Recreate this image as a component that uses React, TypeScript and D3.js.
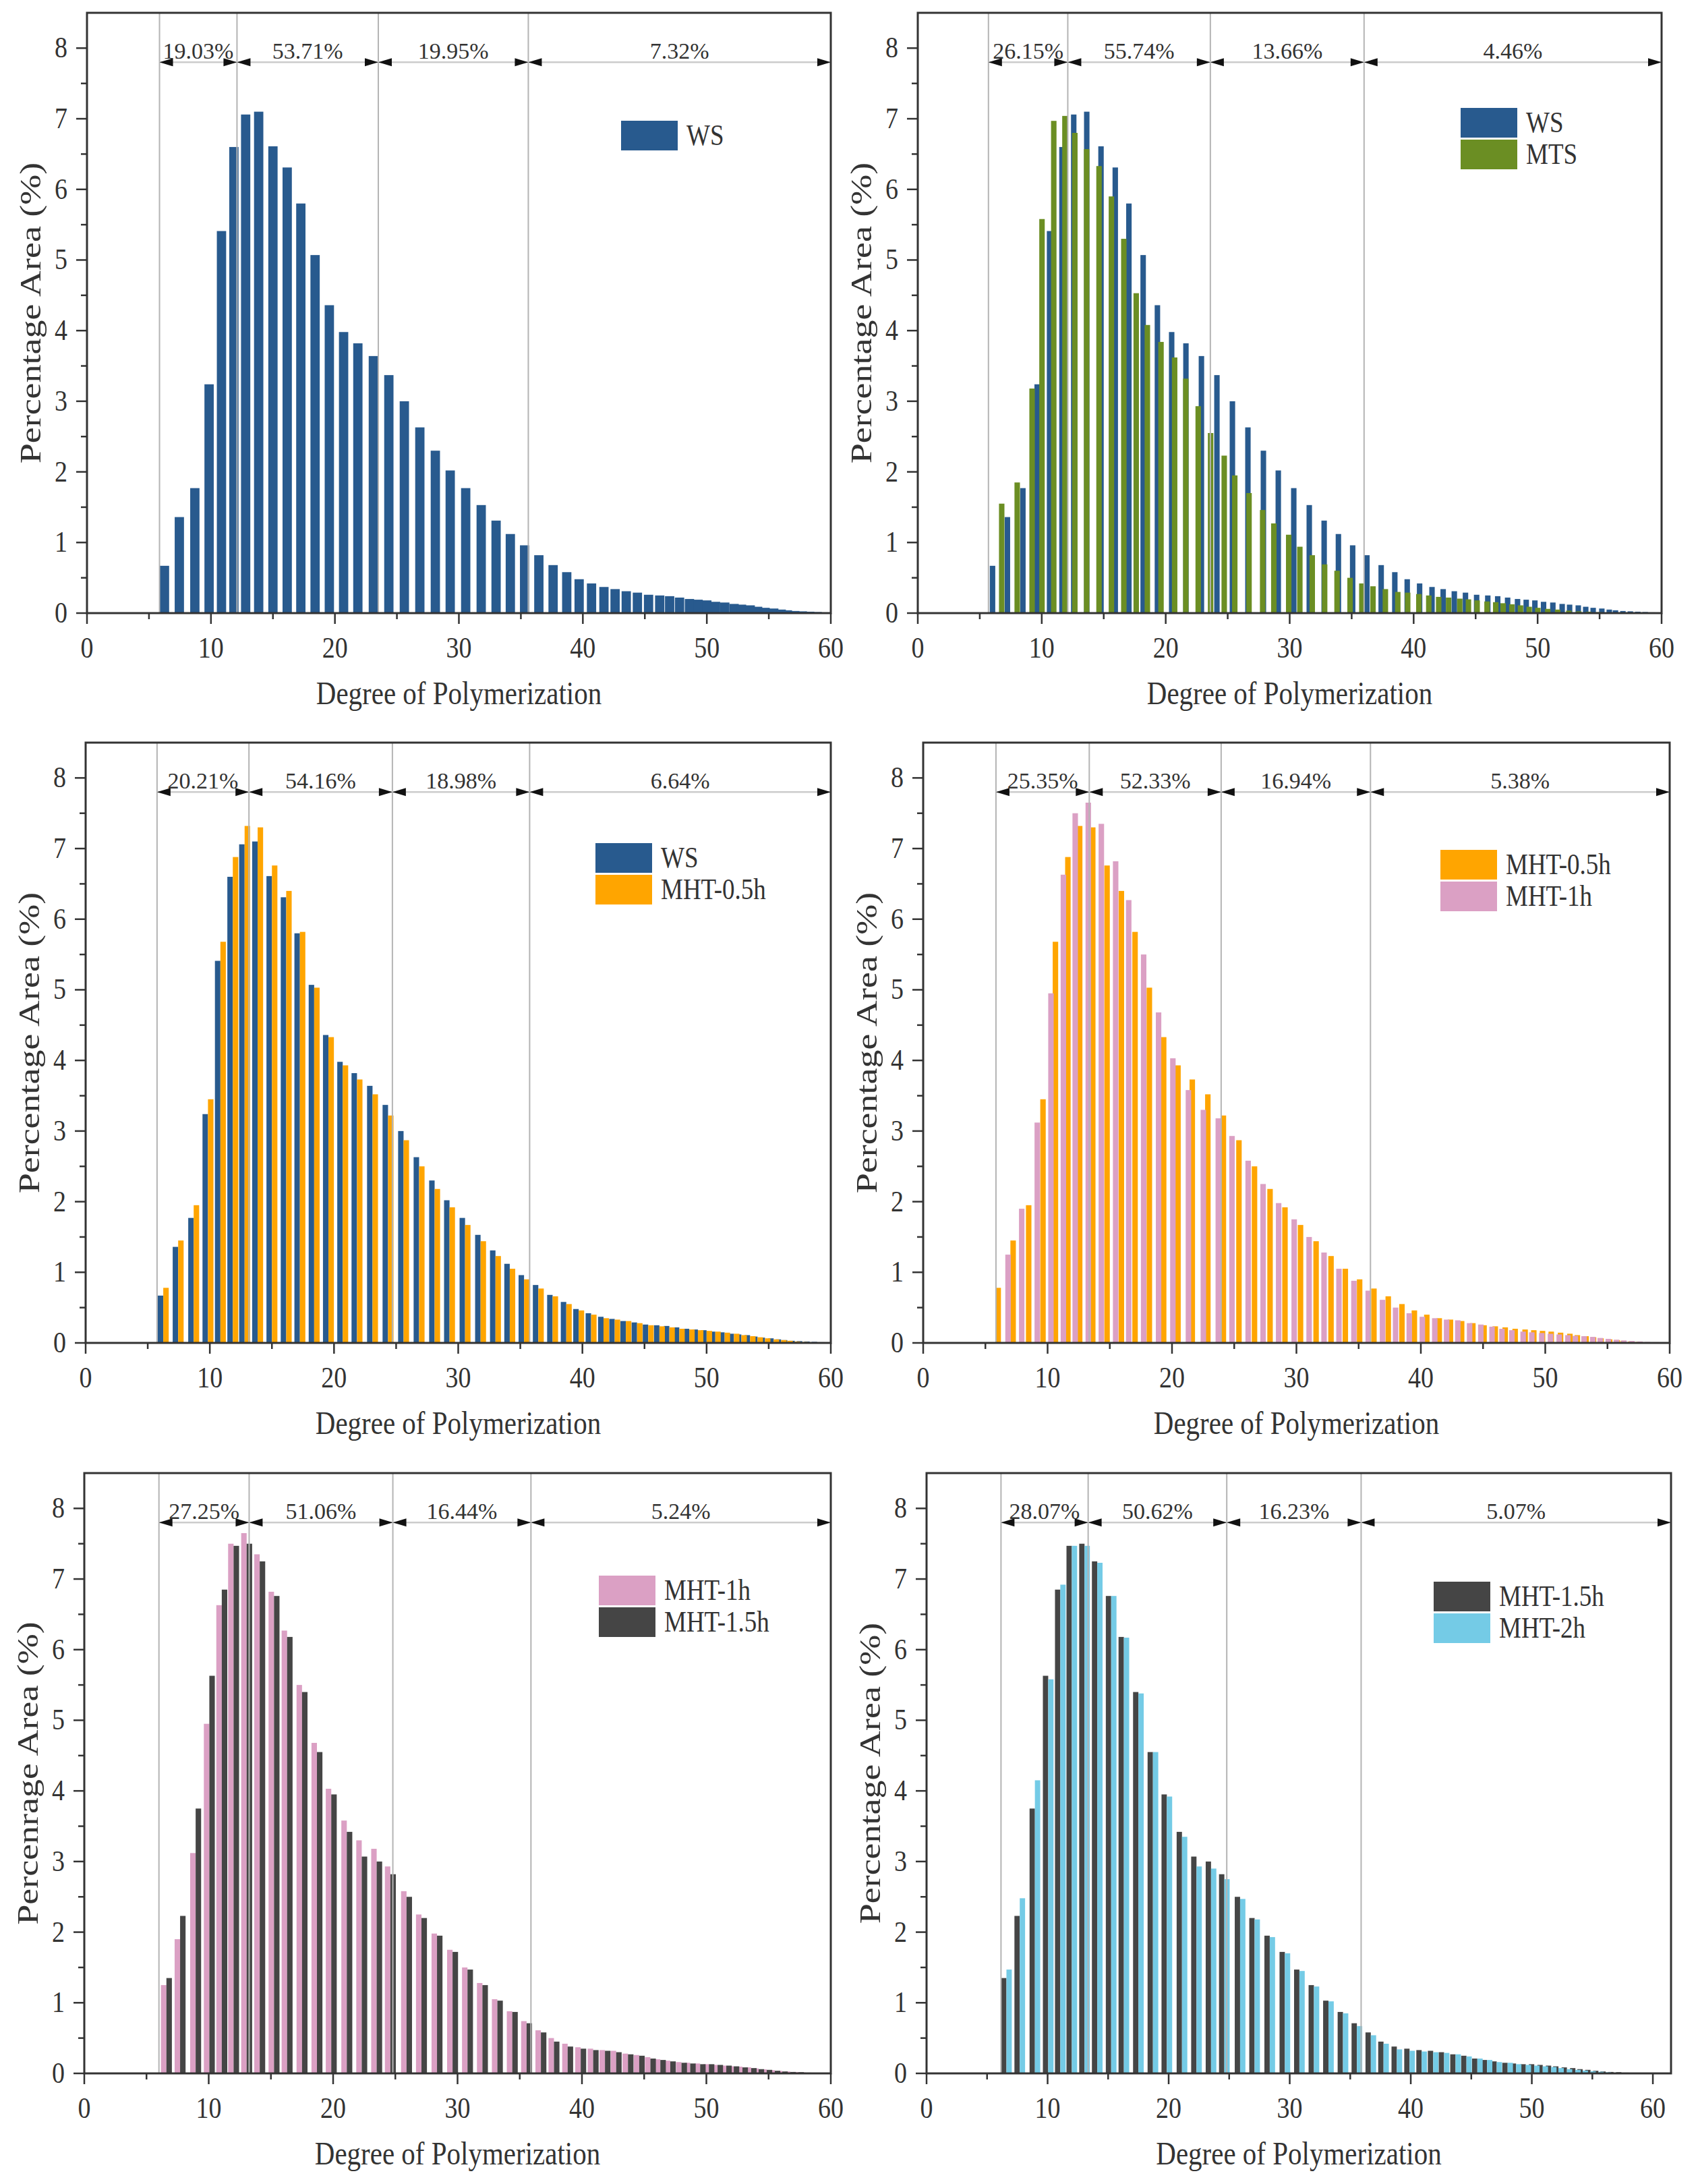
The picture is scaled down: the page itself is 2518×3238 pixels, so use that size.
import * as d3 from 'd3';

const FONT = '"Liberation Serif", "Times New Roman", serif';
const INK = '#333333';
const STRETCH = 1.18;

// bar positions (degree of polymerization)
const dpA = [6.25, 7.45, 8.7, 9.85, 10.85, 11.85, 12.8, 13.85, 15.0, 16.15, 17.25, 18.4, 19.55, 20.7, 21.85, 23.1, 24.35, 25.6, 26.85, 28.1, 29.3, 30.55, 31.8, 33.0, 34.15, 35.3, 36.45, 37.6, 38.7, 39.7, 40.7, 41.7, 42.6, 43.5, 44.4, 45.3, 46.2, 47.0, 47.8, 48.6, 49.3, 50.0, 50.7, 51.45, 52.2, 52.8, 53.5, 54.1, 54.7, 55.4, 56.0, 56.5, 57.1, 57.7, 58.3, 58.9, 59.5];
const dpMTS = [6.55, 7.8, 9.0, 9.8, 10.75, 11.65, 12.45, 13.4, 14.4, 15.4, 16.4, 17.4, 18.3, 19.4, 20.5, 21.4, 22.4, 23.4, 24.5, 25.35, 26.5, 27.6, 28.5, 29.7, 30.6, 31.6, 32.6, 33.6, 34.65, 35.6, 36.5, 37.5, 38.5, 39.3, 40.2, 41.0, 41.8, 42.6, 43.5, 44.2, 44.9, 45.7, 46.4, 47.0, 47.7, 48.4, 49.1, 49.8, 50.6, 51.4, 52.3, 53.1, 53.9, 54.7, 55.5];
const dpB = [6.6, 7.7, 8.95, 10.05, 11.05, 12.0, 13.05, 14.1, 15.25, 16.3, 17.5, 18.7, 19.85, 21.1, 22.3, 23.5, 24.6, 25.9, 27.1, 28.35, 29.6, 30.8, 32.0, 33.2, 34.4, 35.55, 36.7, 37.75, 38.85, 39.9, 40.9, 41.85, 42.75, 43.7, 44.6, 45.5, 46.3, 47.1, 48.0, 48.7, 49.5, 50.2, 50.9, 51.6, 52.2, 52.9, 53.6, 54.2, 54.85, 55.5, 56.1, 56.75, 57.4, 58.0, 58.7, 59.3];

// percentage area per sample
const ws = [0.67, 1.36, 1.77, 3.24, 5.41, 6.6, 7.06, 7.1, 6.61, 6.31, 5.8, 5.07, 4.36, 3.98, 3.82, 3.64, 3.37, 3.0, 2.63, 2.3, 2.02, 1.77, 1.53, 1.31, 1.12, 0.96, 0.82, 0.68, 0.58, 0.48, 0.42, 0.37, 0.34, 0.31, 0.29, 0.26, 0.25, 0.24, 0.22, 0.2, 0.19, 0.18, 0.16, 0.15, 0.13, 0.12, 0.11, 0.09, 0.075, 0.065, 0.05, 0.04, 0.03, 0.025, 0.02, 0.015, 0.01];
const mts = [1.55, 1.85, 3.18, 5.58, 6.97, 7.04, 6.8, 6.57, 6.33, 5.9, 5.3, 4.53, 4.08, 3.84, 3.62, 3.32, 2.93, 2.55, 2.23, 1.95, 1.7, 1.46, 1.27, 1.11, 0.94, 0.82, 0.69, 0.6, 0.5, 0.42, 0.38, 0.34, 0.3, 0.29, 0.27, 0.25, 0.23, 0.22, 0.205, 0.195, 0.18, 0.165, 0.155, 0.14, 0.125, 0.11, 0.09, 0.075, 0.06, 0.05, 0.035, 0.025, 0.02, 0.013, 0.007];
const mht05 = [0.78, 1.45, 1.95, 3.45, 5.68, 6.88, 7.32, 7.3, 6.76, 6.4, 5.82, 5.03, 4.33, 3.93, 3.73, 3.52, 3.22, 2.87, 2.5, 2.18, 1.92, 1.67, 1.44, 1.23, 1.05, 0.9, 0.77, 0.66, 0.55, 0.46, 0.4, 0.35, 0.33, 0.31, 0.28, 0.25, 0.235, 0.22, 0.2, 0.19, 0.18, 0.17, 0.16, 0.145, 0.13, 0.11, 0.095, 0.08, 0.065, 0.05, 0.04, 0.03, 0.02, 0.013, 0.007, 0.003];
const mht1 = [1.25, 1.9, 3.12, 4.95, 6.63, 7.5, 7.65, 7.35, 6.82, 6.27, 5.5, 4.68, 4.03, 3.58, 3.3, 3.18, 2.93, 2.58, 2.25, 1.98, 1.75, 1.5, 1.28, 1.05, 0.88, 0.74, 0.61, 0.5, 0.42, 0.37, 0.35, 0.33, 0.32, 0.28, 0.26, 0.23, 0.2, 0.18, 0.16, 0.15, 0.14, 0.13, 0.12, 0.11, 0.1, 0.095, 0.085, 0.07, 0.057, 0.045, 0.035, 0.027, 0.02, 0.013, 0.01, 0.007];
const mht15 = [1.35, 2.23, 3.75, 5.63, 6.85, 7.47, 7.5, 7.25, 6.76, 6.18, 5.4, 4.55, 3.95, 3.42, 3.07, 3.0, 2.82, 2.5, 2.2, 1.95, 1.72, 1.47, 1.25, 1.03, 0.87, 0.71, 0.58, 0.45, 0.38, 0.35, 0.33, 0.32, 0.3, 0.27, 0.25, 0.21, 0.19, 0.17, 0.15, 0.14, 0.13, 0.13, 0.12, 0.11, 0.1, 0.085, 0.075, 0.06, 0.05, 0.037, 0.027, 0.02, 0.017, 0.01, 0.007, 0.003];
const mht2 = [1.47, 2.48, 4.15, 5.58, 6.92, 7.47, 7.47, 7.23, 6.76, 6.17, 5.38, 4.55, 3.92, 3.35, 2.93, 2.9, 2.75, 2.47, 2.18, 1.93, 1.7, 1.45, 1.23, 1.02, 0.85, 0.67, 0.54, 0.42, 0.34, 0.32, 0.31, 0.3, 0.29, 0.27, 0.24, 0.21, 0.19, 0.16, 0.15, 0.13, 0.12, 0.11, 0.1, 0.09, 0.075, 0.06, 0.05, 0.04, 0.03, 0.023, 0.016, 0.01, 0.007, 0.003];

// DP fraction boundaries and their shares
const cuts1 = [5.85, 12.1, 23.5, 35.6];
const shares1 = ['19.03%', '53.71%', '19.95%', '7.32%'];
const cuts2 = [5.7, 12.1, 23.6, 36.0];
const shares2 = ['26.15%', '55.74%', '13.66%', '4.46%'];
const cuts3 = [5.75, 13.15, 24.7, 35.75];
const shares3 = ['20.21%', '54.16%', '18.98%', '6.64%'];
const cuts4 = [5.85, 13.35, 23.95, 35.95];
const shares4 = ['25.35%', '52.33%', '16.94%', '5.38%'];
const cuts5 = [6.0, 13.25, 24.8, 35.9];
const shares5 = ['27.25%', '51.06%', '16.44%', '5.24%'];
const cuts6 = [6.15, 13.35, 24.8, 35.9];
const shares6 = ['28.07%', '50.62%', '16.23%', '5.07%'];

const xTicks = [0, 10, 20, 30, 40, 50, 60];
const yTicks = [0, 1, 2, 3, 4, 5, 6, 7, 8];

const WS = { name: 'WS', dp: dpA, values: ws, color: '#285a8e' };
const MTS = { name: 'MTS', dp: dpMTS, values: mts, color: '#6b8e23' };
const M05 = { name: 'MHT-0.5h', dp: dpA, values: mht05, color: '#ffa500' };
const M1 = { name: 'MHT-1h', dp: dpB, values: mht1, color: '#dba0c4' };
const M15 = { name: 'MHT-1.5h', dp: dpB, values: mht15, color: '#454545' };
const M2 = { name: 'MHT-2h', dp: dpB, values: mht2, color: '#74cbe6' };

type Series = typeof WS;
type Spec = {
  id: string;
  left: number;
  top: number;
  width: number;
  xMax: number;
  series: Series[];
  cuts: number[];
  shares: string[];
  legend: [number, number];
  yTitle: string;
};

const HEIGHT = 890;

const panels: Spec[] = [
  { id: 'a', left: 129, top: 19, width: 1103, xMax: 60, series: [WS], cuts: cuts1, shares: shares1, legend: [792, 160], yTitle: 'Percentage Area (%)' },
  { id: 'b', left: 1361, top: 19, width: 1103, xMax: 60, series: [WS, MTS], cuts: cuts2, shares: shares2, legend: [805, 141], yTitle: 'Percentage Area (%)' },
  { id: 'c', left: 127, top: 1101, width: 1105, xMax: 60, series: [WS, M05], cuts: cuts3, shares: shares3, legend: [756, 149], yTitle: 'Percentage Area (%)' },
  { id: 'd', left: 1369, top: 1101, width: 1107, xMax: 60, series: [M05, M1], cuts: cuts4, shares: shares4, legend: [767, 159], yTitle: 'Percentage Area (%)' },
  { id: 'e', left: 125, top: 2184, width: 1107, xMax: 60, series: [M1, M15], cuts: cuts5, shares: shares5, legend: [763, 152], yTitle: 'Percenrage Area (%)' },
  { id: 'f', left: 1374, top: 2184, width: 1104, xMax: 61.5, series: [M15, M2], cuts: cuts6, shares: shares6, legend: [752, 161], yTitle: 'Percentage Area (%)' },
];

// text drawn a little taller than wide, like the scanned figure
function Label({ x, y, size, anchor = 'start', children, dy }: { x: number; y: number; size: number; anchor?: string; dy?: string; children: any }) {
  return (
    <text
      transform={`translate(${x},${y}) scale(1,${STRETCH})`}
      textAnchor={anchor}
      dy={dy}
      fontFamily={FONT}
      fontSize={size}
      fill={INK}
    >
      {children}
    </text>
  );
}

function Panel({ spec }: { spec: Spec }) {
  const { width, xMax, series, cuts, shares } = spec;
  const x = d3.scaleLinear().domain([0, xMax]).range([0, width]);
  const y = d3.scaleLinear().domain([0, 8.5]).range([HEIGHT, 0]);
  const single = series.length === 1;
  const bw = single ? 0.75 : 0.44;
  const minorX = d3.range(5, xMax, 10);
  const minorY = d3.range(0.5, 8.5, 1);
  const arrowY = y(7.8);
  const ends = [...cuts, xMax];
  const head = 20;
  const half = 6;

  return (
    <g transform={`translate(${spec.left},${spec.top})`}>
      <defs>
        <clipPath id={`clip-${spec.id}`}>
          <rect x={0} y={0} width={width} height={HEIGHT} />
        </clipPath>
      </defs>
      <g clipPath={`url(#clip-${spec.id})`}>
        {series.map((s, k) =>
          s.values.map((v, i) => {
            const left = single ? s.dp[i] - bw / 2 : k === 0 ? s.dp[i] - bw : s.dp[i];
            return (
              <rect
                key={`${s.name}-${i}`}
                x={x(left)}
                y={y(v)}
                width={x(left + bw) - x(left)}
                height={y(0) - y(v)}
                fill={s.color}
              />
            );
          })
        )}
      </g>
      {cuts.map((c) => (
        <line key={`cut-${c}`} x1={x(c)} x2={x(c)} y1={0} y2={HEIGHT} stroke="#b4b4b4" strokeWidth={2} />
      ))}
      {shares.map((label, i) => {
        const a = x(ends[i]);
        const b = x(ends[i + 1]);
        return (
          <g key={label}>
            <line x1={a} x2={b} y1={arrowY} y2={arrowY} stroke="#cccccc" strokeWidth={2.5} />
            <path d={`M${a},${arrowY}L${a + head},${arrowY - half}L${a + head},${arrowY + half}Z`} fill="#111" />
            <path d={`M${b},${arrowY}L${b - head},${arrowY - half}L${b - head},${arrowY + half}Z`} fill="#111" />
            <text x={(a + b) / 2} y={arrowY - 5} textAnchor="middle" fontFamily={FONT} fontSize={34} fill={INK}>
              {label}
            </text>
          </g>
        );
      })}
      <rect x={0} y={0} width={width} height={HEIGHT} fill="none" stroke={INK} strokeWidth={3} />
      {xTicks.map((t) => (
        <g key={`xt-${t}`}>
          <line x1={x(t)} x2={x(t)} y1={HEIGHT} y2={HEIGHT + 16} stroke={INK} strokeWidth={2.5} />
          <Label x={x(t)} y={HEIGHT + 66} size={38} anchor="middle">
            {t}
          </Label>
        </g>
      ))}
      {minorX.map((t) => (
        <line key={`xm-${t}`} x1={x(t)} x2={x(t)} y1={HEIGHT} y2={HEIGHT + 9} stroke={INK} strokeWidth={2.5} />
      ))}
      {yTicks.map((t) => (
        <g key={`yt-${t}`}>
          <line x1={-16} x2={0} y1={y(t)} y2={y(t)} stroke={INK} strokeWidth={2.5} />
          <Label x={-29} y={y(t) + 14} size={38} anchor="end">
            {t}
          </Label>
        </g>
      ))}
      {minorY.map((t) => (
        <line key={`ym-${t}`} x1={-9} x2={0} y1={y(t)} y2={y(t)} stroke={INK} strokeWidth={2.5} />
      ))}
      <Label x={width / 2} y={HEIGHT + 135} size={41} anchor="middle">
        Degree of Polymerization
      </Label>
      <text
        transform={`translate(-85,${HEIGHT / 2}) rotate(-90) scale(1.2,1)`}
        textAnchor="middle"
        dy="0.35em"
        fontFamily={FONT}
        fontSize={45}
        fill={INK}
      >
        {spec.yTitle}
      </text>
      {series.map((s, k) => (
        <g key={`lg-${s.name}`} transform={`translate(${spec.legend[0]},${spec.legend[1] + k * 47})`}>
          <rect x={0} y={0} width={84} height={44} fill={s.color} />
          <Label x={97} y={36} size={37}>
            {s.name}
          </Label>
        </g>
      ))}
    </g>
  );
}

export default function App() {
  return (
    <svg
      width={2518}
      height={3238}
      viewBox="0 0 2518 3238"
      style={{ position: 'absolute', left: 0, top: 0, background: '#fff' }}
    >
      <rect width={2518} height={3238} fill="#fff" />
      {panels.map((p) => (
        <Panel key={p.id} spec={p} />
      ))}
    </svg>
  );
}
